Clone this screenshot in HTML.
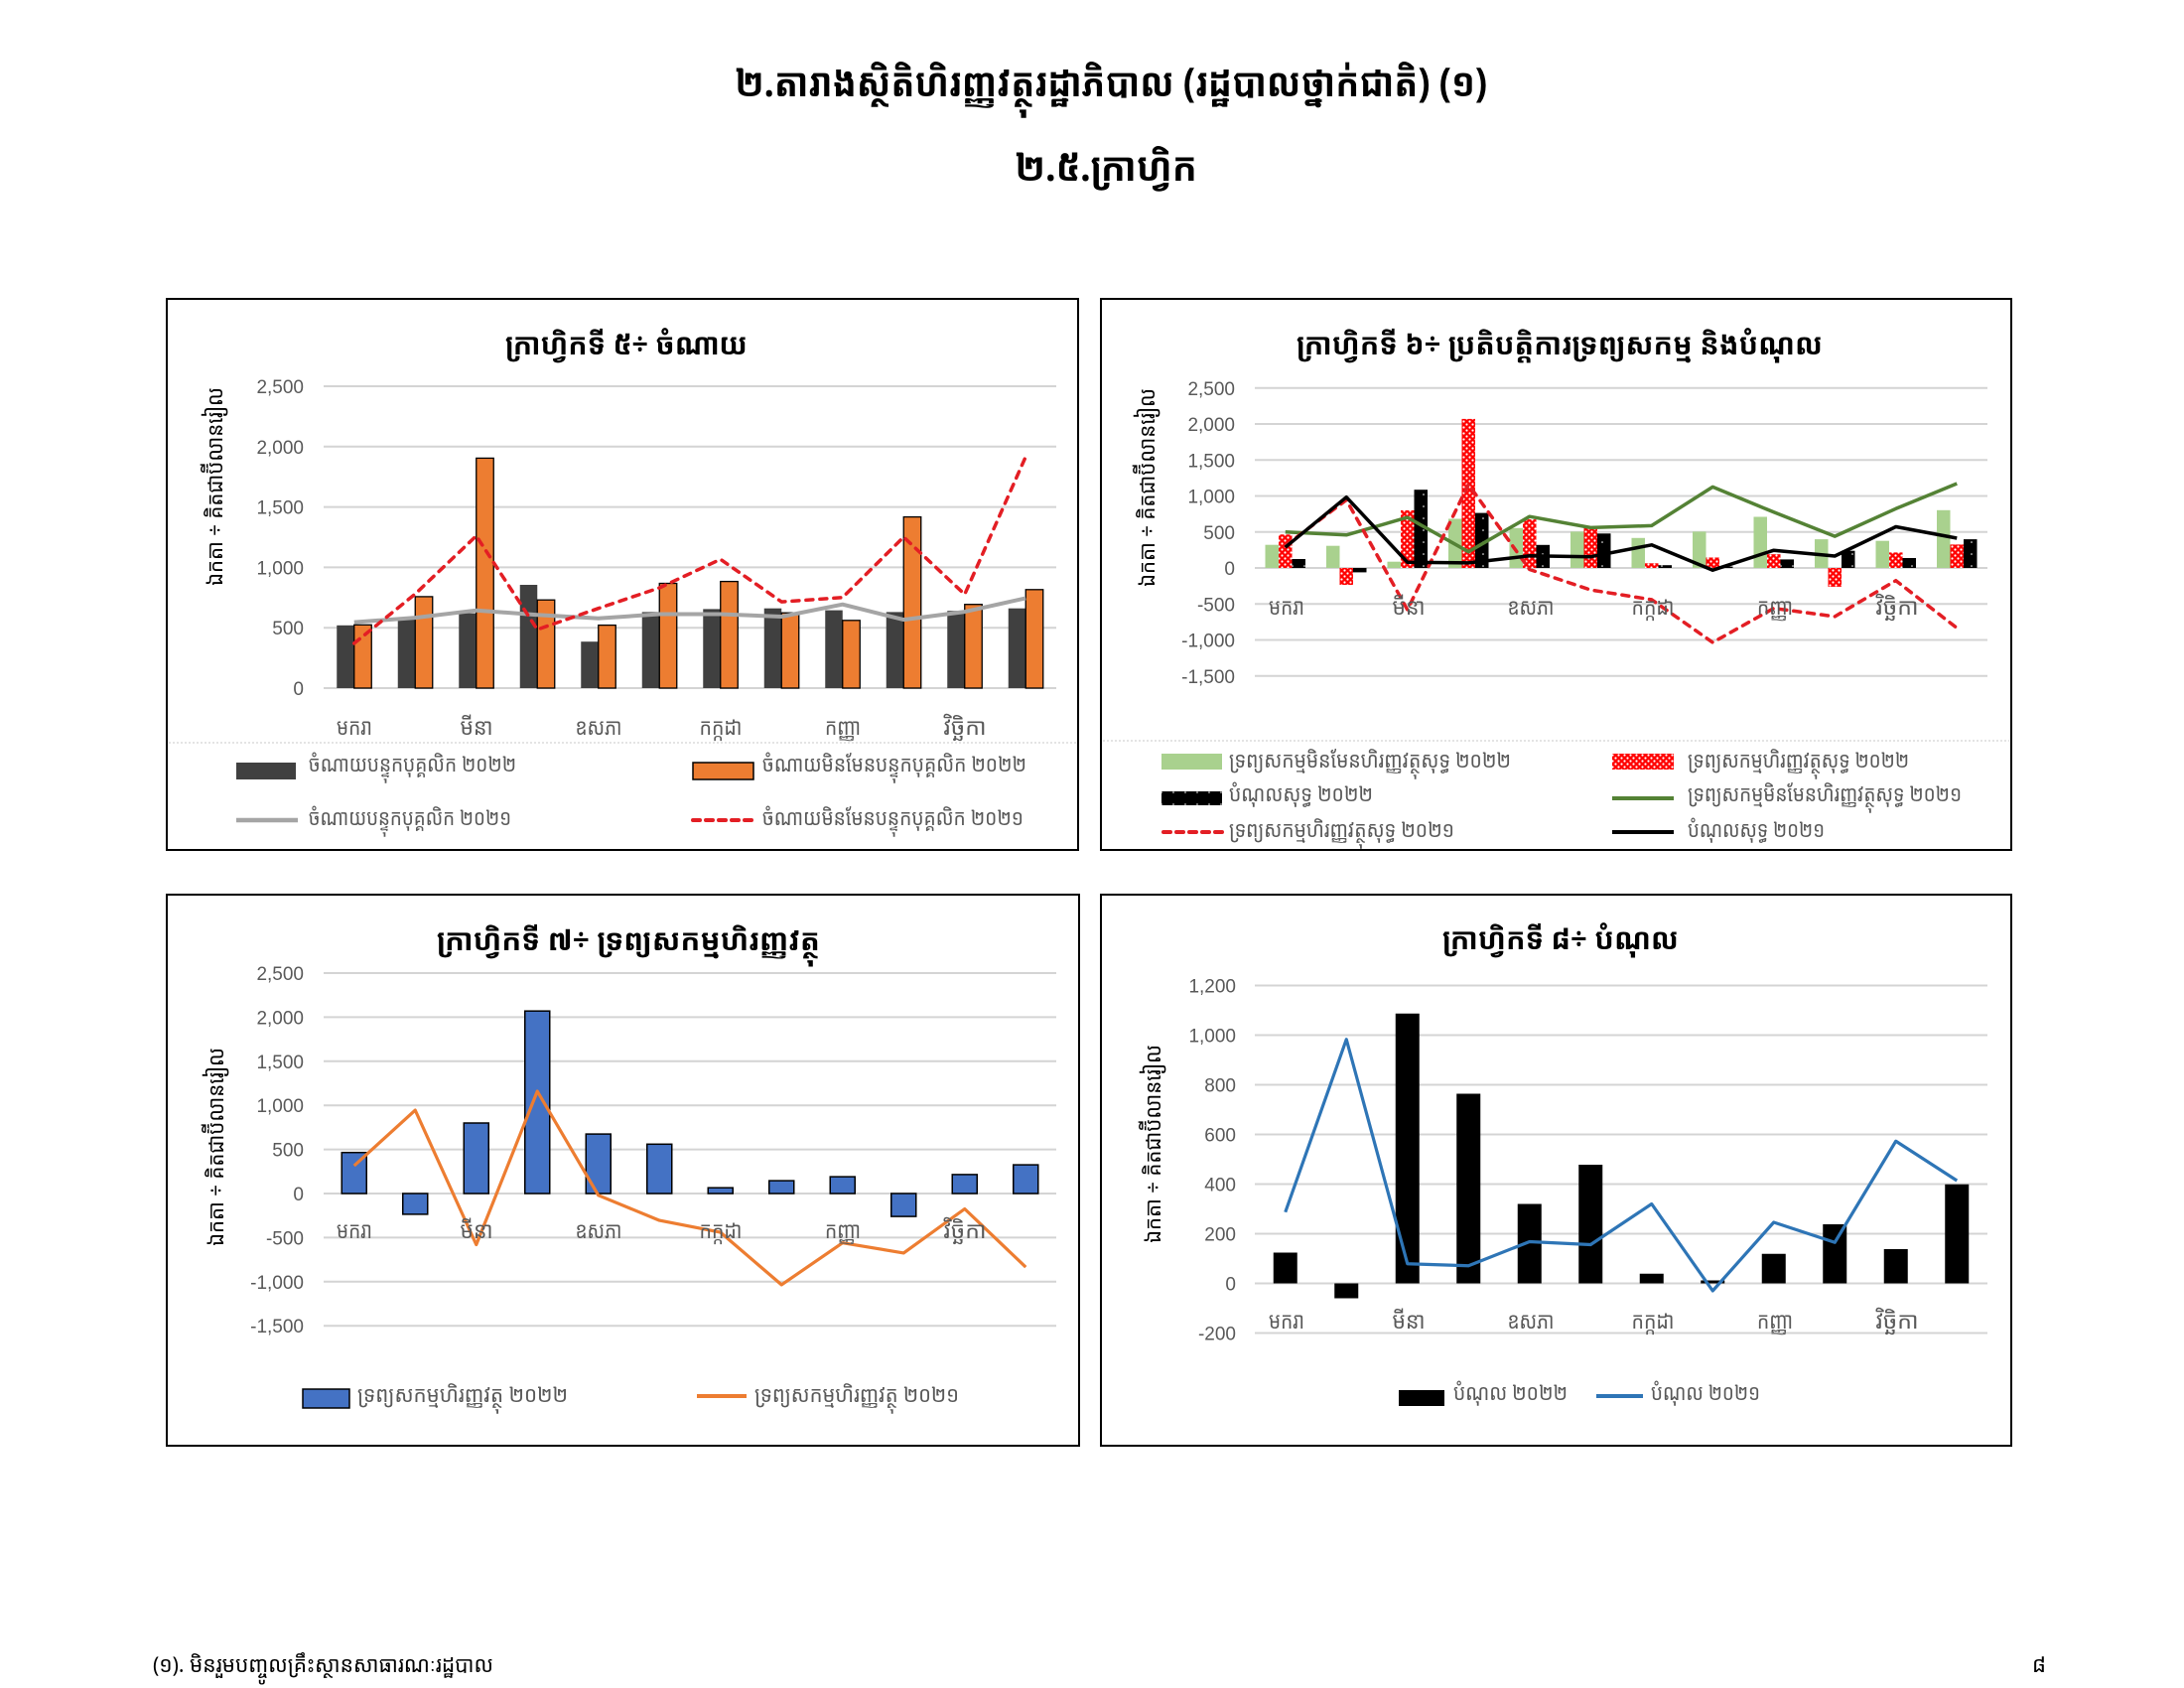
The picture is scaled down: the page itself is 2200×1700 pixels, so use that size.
<!DOCTYPE html>
<html><head><meta charset="utf-8"><style>
html,body{margin:0;padding:0;background:#fff;}
svg{display:block;}
.tk{font-family:"Liberation Sans",sans-serif;font-size:19px;fill:#595959;}
.km{font-family:"Khmer OS System","Khmer OS","Noto Sans Khmer","Khmer OS Content","Hanuman","Liberation Sans","DejaVu Sans",sans-serif;}
.cat{font-size:23px;fill:#595959;}
.lg{font-size:22px;fill:#595959;}
.yt{font-size:22px;fill:#000;}
.ct{font-size:30px;font-weight:bold;fill:#000;}
.pt{font-size:40px;font-weight:bold;fill:#000;}
.grid line{stroke:#D4D4D4;stroke-width:2;}
</style></head><body>
<svg width="2200" height="1700" viewBox="0 0 2200 1700" xmlns="http://www.w3.org/2000/svg">
<defs>
<pattern id="rdots" width="6" height="6" patternUnits="userSpaceOnUse"><rect width="6" height="6" fill="#FF0000"/><circle cx="1.5" cy="1.5" r="1.1" fill="#fff"/><circle cx="4.5" cy="4.5" r="1.1" fill="#fff"/></pattern>
<pattern id="kdots" width="12" height="12" patternUnits="userSpaceOnUse"><rect width="12" height="12" fill="#000"/><circle cx="6" cy="6" r="0.8" fill="#fff"/></pattern>
</defs>
<rect width="2200" height="1700" fill="#fff"/>

<!-- Page titles -->
<text class="km pt" x="1119" y="97" text-anchor="middle" textLength="758" lengthAdjust="spacingAndGlyphs">២.តារាងស្ថិតិហិរញ្ញវត្ថុរដ្ឋាភិបាល (រដ្ឋបាលថ្នាក់ជាតិ) (១)</text>
<text class="km pt" x="1114" y="182" text-anchor="middle" textLength="184" lengthAdjust="spacingAndGlyphs">២.៥.ក្រាហ្វិក</text>

<!-- ================= CHART 1 ================= -->
<rect x="168" y="301" width="918" height="555" fill="#fff" stroke="#000" stroke-width="2"/>
<text class="km ct" x="631" y="357" text-anchor="middle" textLength="244" lengthAdjust="spacingAndGlyphs">ក្រាហ្វិកទី ៥÷ ចំណាយ</text>
<g class="grid">
<line x1="326" x2="1064" y1="389" y2="389"/><line x1="326" x2="1064" y1="449.8" y2="449.8"/><line x1="326" x2="1064" y1="510.6" y2="510.6"/><line x1="326" x2="1064" y1="571.4" y2="571.4"/><line x1="326" x2="1064" y1="632.2" y2="632.2"/><line x1="326" x2="1064" y1="693" y2="693"/>
</g>
<g class="tk" text-anchor="end">
<text x="306" y="396">2,500</text><text x="306" y="456.8">2,000</text><text x="306" y="517.6">1,500</text><text x="306" y="578.4">1,000</text><text x="306" y="639.2">500</text><text x="306" y="700">0</text>
</g>
<text class="km yt" transform="translate(224,490) rotate(-90)" text-anchor="middle" textLength="200" lengthAdjust="spacingAndGlyphs">ឯកតា ÷ គិតជាប៊ីលានរៀល</text>
<g fill="#404040">
<rect x="339.25" y="629.8" width="17.5" height="63.2"/><rect x="400.75" y="622.5" width="17.5" height="70.5"/><rect x="462.25" y="617.6" width="17.5" height="75.4"/><rect x="523.75" y="589" width="17.5" height="104"/><rect x="585.25" y="646.2" width="17.5" height="46.8"/><rect x="646.75" y="616.4" width="17.5" height="76.6"/><rect x="708.25" y="613.4" width="17.5" height="79.6"/><rect x="769.75" y="612.7" width="17.5" height="80.3"/><rect x="831.25" y="614.6" width="17.5" height="78.4"/><rect x="892.75" y="616.4" width="17.5" height="76.6"/><rect x="954.25" y="615.2" width="17.5" height="77.8"/><rect x="1015.75" y="612.7" width="17.5" height="80.3"/>
</g>
<g fill="#ED7D31" stroke="#000" stroke-width="1.3">
<rect x="356.75" y="629.3" width="17.5" height="63.7"/><rect x="418.25" y="600.9" width="17.5" height="92.1"/><rect x="479.75" y="461.4" width="17.5" height="231.6"/><rect x="541.25" y="604.2" width="17.5" height="88.8"/><rect x="602.75" y="629.6" width="17.5" height="63.4"/><rect x="664.25" y="587.5" width="17.5" height="105.5"/><rect x="725.75" y="585.6" width="17.5" height="107.4"/><rect x="787.25" y="617.2" width="17.5" height="75.8"/><rect x="848.75" y="624.8" width="17.5" height="68.2"/><rect x="910.25" y="520.6" width="17.5" height="172.4"/><rect x="971.75" y="608.7" width="17.5" height="84.3"/><rect x="1033.25" y="593.8" width="17.5" height="99.2"/>
</g>
<polyline fill="none" stroke="#A5A5A5" stroke-width="4" stroke-linejoin="round" points="356.75,626.6 418.25,622.1 479.75,614.7 541.25,619.2 602.75,622.8 664.25,618.5 725.75,618.5 787.25,621 848.75,608.7 910.25,624.1 971.75,616.1 1033.25,602.4"/>
<polyline fill="none" stroke="#E31E24" stroke-width="3.5" stroke-dasharray="7 7" stroke-linecap="round" stroke-linejoin="round" points="356.75,647.9 418.25,598.2 479.75,539.7 541.25,634 602.75,612.7 664.25,592 725.75,563.3 787.25,606.1 848.75,601.7 910.25,540.9 971.75,598.6 1033.25,459.9"/>
<g class="km cat" text-anchor="middle">
<text x="357" y="740" textLength="36" lengthAdjust="spacingAndGlyphs">មករា</text>
<text x="480" y="740" textLength="33" lengthAdjust="spacingAndGlyphs">មីនា</text>
<text x="603" y="740" textLength="47" lengthAdjust="spacingAndGlyphs">ឧសភា</text>
<text x="726" y="740" textLength="43" lengthAdjust="spacingAndGlyphs">កក្កដា</text>
<text x="849" y="740" textLength="36" lengthAdjust="spacingAndGlyphs">កញ្ញា</text>
<text x="972" y="740" textLength="43" lengthAdjust="spacingAndGlyphs">វិច្ឆិកា</text>
</g>
<line x1="170" x2="1084" y1="748" y2="748" stroke="#C8C8C8" stroke-width="1" stroke-dasharray="2 2"/>
<rect x="238" y="768" width="60" height="17" fill="#404040"/>
<text class="km lg" x="311" y="777" textLength="209" lengthAdjust="spacingAndGlyphs">ចំណាយបន្ទុកបុគ្គលិក ២០២២</text>
<rect x="698" y="768" width="61" height="17" fill="#ED7D31" stroke="#000" stroke-width="1.5"/>
<text class="km lg" x="768" y="777" textLength="266" lengthAdjust="spacingAndGlyphs">ចំណាយមិនមែនបន្ទុកបុគ្គលិក ២០២២</text>
<line x1="238" x2="300" y1="826" y2="826" stroke="#A5A5A5" stroke-width="4.5"/>
<text class="km lg" x="311" y="831" textLength="204" lengthAdjust="spacingAndGlyphs">ចំណាយបន្ទុកបុគ្គលិក ២០២១</text>
<line x1="698" x2="759" y1="826" y2="826" stroke="#E31E24" stroke-width="4" stroke-dasharray="7 6" stroke-linecap="round"/>
<text class="km lg" x="768" y="831" textLength="263" lengthAdjust="spacingAndGlyphs">ចំណាយមិនមែនបន្ទុកបុគ្គលិក ២០២១</text>

<!-- ================= CHART 2 ================= -->
<rect x="1109" y="301" width="917" height="555" fill="#fff" stroke="#000" stroke-width="2"/>
<text class="km ct" x="1571" y="357" text-anchor="middle" textLength="530" lengthAdjust="spacingAndGlyphs">ក្រាហ្វិកទី ៦÷ ប្រតិបត្តិការទ្រព្យសកម្ម និងបំណុល</text>
<g class="grid">
<line x1="1264" x2="2002" y1="390.75" y2="390.75"/><line x1="1264" x2="2002" y1="427" y2="427"/><line x1="1264" x2="2002" y1="463.25" y2="463.25"/><line x1="1264" x2="2002" y1="499.5" y2="499.5"/><line x1="1264" x2="2002" y1="535.75" y2="535.75"/><line x1="1264" x2="2002" y1="572" y2="572"/><line x1="1264" x2="2002" y1="608.25" y2="608.25"/><line x1="1264" x2="2002" y1="644.5" y2="644.5"/><line x1="1264" x2="2002" y1="680.75" y2="680.75"/>
</g>
<g class="tk" text-anchor="end">
<text x="1244" y="397.75">2,500</text><text x="1244" y="434">2,000</text><text x="1244" y="470.25">1,500</text><text x="1244" y="506.5">1,000</text><text x="1244" y="542.75">500</text><text x="1244" y="579">0</text><text x="1244" y="615.25">-500</text><text x="1244" y="651.5">-1,000</text><text x="1244" y="687.75">-1,500</text>
</g>
<text class="km yt" transform="translate(1163,491) rotate(-90)" text-anchor="middle" textLength="200" lengthAdjust="spacingAndGlyphs">ឯកតា ÷ គិតជាប៊ីលានរៀល</text>
<g fill="#A9D18E">
<rect x="1274.5" y="548.7" width="13.5" height="23.3"/><rect x="1336" y="549.7" width="13.5" height="22.3"/><rect x="1397.5" y="565.7" width="13.5" height="6.3"/><rect x="1459" y="522.5" width="13.5" height="49.5"/><rect x="1520.5" y="531.8" width="13.5" height="40.2"/><rect x="1582" y="535.4" width="13.5" height="36.6"/><rect x="1643.5" y="541.8" width="13.5" height="30.2"/><rect x="1705" y="535.4" width="13.5" height="36.6"/><rect x="1766.5" y="520.5" width="13.5" height="51.5"/><rect x="1828" y="543.1" width="13.5" height="28.9"/><rect x="1889.5" y="544.7" width="13.5" height="27.3"/><rect x="1951" y="513.8" width="13.5" height="58.2"/>
</g>
<g fill="url(#rdots)">
<rect x="1288" y="538.3" width="13.5" height="33.7"/><rect x="1349.5" y="572" width="13.5" height="17"/><rect x="1411" y="514" width="13.5" height="58"/><rect x="1472.5" y="421.9" width="13.5" height="150.1"/><rect x="1534" y="523.1" width="13.5" height="48.9"/><rect x="1595.5" y="531.4" width="13.5" height="40.6"/><rect x="1657" y="567.3" width="13.5" height="4.7"/><rect x="1718.5" y="561.5" width="13.5" height="10.5"/><rect x="1780" y="558.2" width="13.5" height="13.8"/><rect x="1841.5" y="572" width="13.5" height="18.9"/><rect x="1903" y="556.4" width="13.5" height="15.6"/><rect x="1964.5" y="548.4" width="13.5" height="23.6"/>
</g>
<g fill="url(#kdots)">
<rect x="1301.5" y="563" width="13.5" height="9"/><rect x="1363" y="572" width="13.5" height="4.4"/><rect x="1424.5" y="493.2" width="13.5" height="78.8"/><rect x="1486" y="516.6" width="13.5" height="55.4"/><rect x="1547.5" y="548.8" width="13.5" height="23.2"/><rect x="1609" y="537.3" width="13.5" height="34.7"/><rect x="1670.5" y="569.2" width="13.5" height="2.8"/><rect x="1732" y="570.6" width="13.5" height="1.4"/><rect x="1793.5" y="563.4" width="13.5" height="8.6"/><rect x="1855" y="554.7" width="13.5" height="17.3"/><rect x="1916.5" y="562" width="13.5" height="10"/><rect x="1978" y="543.1" width="13.5" height="28.9"/>
</g>
<polyline fill="none" stroke="#548235" stroke-width="3.5" stroke-linejoin="round" points="1294.75,535.75 1356.25,538.8 1417.75,521.1 1479.25,555.7 1540.75,520.2 1602.25,531.4 1663.75,529.4 1725.25,490.4 1786.75,515.8 1848.25,540.1 1909.75,512.3 1971.25,487"/>
<polyline fill="none" stroke="#E31E24" stroke-width="3.5" stroke-dasharray="7 7" stroke-linecap="round" stroke-linejoin="round" points="1294.75,549.5 1356.25,503.5 1417.75,614.1 1479.25,487.9 1540.75,573.5 1602.25,594.1 1663.75,603.9 1725.25,647 1786.75,612.6 1848.25,620.9 1909.75,584.7 1971.25,632.5"/>
<polyline fill="none" stroke="#000" stroke-width="3.5" stroke-linejoin="round" points="1294.75,551.2 1356.25,500.7 1417.75,566.3 1479.25,566.9 1540.75,559.8 1602.25,560.7 1663.75,548.8 1725.25,574.2 1786.75,554.2 1848.25,560 1909.75,530.5 1971.25,542"/>
<g class="km cat" text-anchor="middle">
<text x="1296" y="619" textLength="36" lengthAdjust="spacingAndGlyphs">មករា</text>
<text x="1419" y="619" textLength="33" lengthAdjust="spacingAndGlyphs">មីនា</text>
<text x="1542" y="619" textLength="47" lengthAdjust="spacingAndGlyphs">ឧសភា</text>
<text x="1665" y="619" textLength="43" lengthAdjust="spacingAndGlyphs">កក្កដា</text>
<text x="1788" y="619" textLength="36" lengthAdjust="spacingAndGlyphs">កញ្ញា</text>
<text x="1911" y="619" textLength="43" lengthAdjust="spacingAndGlyphs">វិច្ឆិកា</text>
</g>
<line x1="1111" x2="2024" y1="746" y2="746" stroke="#C8C8C8" stroke-width="1" stroke-dasharray="2 2"/>
<rect x="1170" y="759" width="61" height="16" fill="#A9D18E"/>
<text class="km lg" x="1238" y="773" textLength="284" lengthAdjust="spacingAndGlyphs">ទ្រព្យសកម្មមិនមែនហិរញ្ញវត្ថុសុទ្ធ ២០២២</text>
<rect x="1624" y="759" width="62" height="16" fill="url(#rdots)"/>
<text class="km lg" x="1700" y="773" textLength="223" lengthAdjust="spacingAndGlyphs">ទ្រព្យសកម្មហិរញ្ញវត្ថុសុទ្ធ ២០២២</text>
<rect x="1170" y="797" width="61" height="14" fill="url(#kdots)"/>
<text class="km lg" x="1238" y="807" textLength="145" lengthAdjust="spacingAndGlyphs">បំណុលសុទ្ធ ២០២២</text>
<line x1="1624" x2="1686" y1="804" y2="804" stroke="#548235" stroke-width="4"/>
<text class="km lg" x="1700" y="807" textLength="276" lengthAdjust="spacingAndGlyphs">ទ្រព្យសកម្មមិនមែនហិរញ្ញវត្ថុសុទ្ធ ២០២១</text>
<line x1="1172" x2="1231" y1="838" y2="838" stroke="#E31E24" stroke-width="4" stroke-dasharray="7 6" stroke-linecap="round"/>
<text class="km lg" x="1238" y="843" textLength="227" lengthAdjust="spacingAndGlyphs">ទ្រព្យសកម្មហិរញ្ញវត្ថុសុទ្ធ ២០២១</text>
<line x1="1624" x2="1686" y1="838" y2="838" stroke="#000" stroke-width="4"/>
<text class="km lg" x="1700" y="843" textLength="138" lengthAdjust="spacingAndGlyphs">បំណុលសុទ្ធ ២០២១</text>

<!-- ================= CHART 7 ================= -->
<rect x="168" y="901" width="919" height="555" fill="#fff" stroke="#000" stroke-width="2"/>
<text class="km ct" x="633" y="957" text-anchor="middle" textLength="386" lengthAdjust="spacingAndGlyphs">ក្រាហ្វិកទី ៧÷ ទ្រព្យសកម្មហិរញ្ញវត្ថុ</text>
<g class="grid">
<line x1="326" x2="1064" y1="980" y2="980"/><line x1="326" x2="1064" y1="1024.4" y2="1024.4"/><line x1="326" x2="1064" y1="1068.8" y2="1068.8"/><line x1="326" x2="1064" y1="1113.2" y2="1113.2"/><line x1="326" x2="1064" y1="1157.6" y2="1157.6"/><line x1="326" x2="1064" y1="1202" y2="1202"/><line x1="326" x2="1064" y1="1246.4" y2="1246.4"/><line x1="326" x2="1064" y1="1290.8" y2="1290.8"/><line x1="326" x2="1064" y1="1335.2" y2="1335.2"/>
</g>
<g class="tk" text-anchor="end">
<text x="306" y="987">2,500</text><text x="306" y="1031.4">2,000</text><text x="306" y="1075.8">1,500</text><text x="306" y="1120.2">1,000</text><text x="306" y="1164.6">500</text><text x="306" y="1209">0</text><text x="306" y="1253.4">-500</text><text x="306" y="1297.8">-1,000</text><text x="306" y="1342.2">-1,500</text>
</g>
<text class="km yt" transform="translate(225,1155) rotate(-90)" text-anchor="middle" textLength="200" lengthAdjust="spacingAndGlyphs">ឯកតា ÷ គិតជាប៊ីលានរៀល</text>
<g fill="#4472C4" stroke="#000" stroke-width="1.5">
<rect x="344.25" y="1160.7" width="25" height="41.3"/><rect x="405.75" y="1202" width="25" height="20.9"/><rect x="467.25" y="1131" width="25" height="71"/><rect x="528.75" y="1018.2" width="25" height="183.8"/><rect x="590.25" y="1142.1" width="25" height="59.9"/><rect x="651.75" y="1152.3" width="25" height="49.7"/><rect x="713.25" y="1196.2" width="25" height="5.8"/><rect x="774.75" y="1189.1" width="25" height="12.9"/><rect x="836.25" y="1185.1" width="25" height="16.9"/><rect x="897.75" y="1202" width="25" height="23.1"/><rect x="959.25" y="1182.9" width="25" height="19.1"/><rect x="1020.75" y="1173.1" width="25" height="28.9"/>
</g>
<polyline fill="none" stroke="#ED7D31" stroke-width="3.2" stroke-linejoin="round" points="356.75,1174 418.25,1118.1 479.75,1253.5 541.25,1099 602.75,1203.8 664.25,1229.1 725.75,1241.1 787.25,1293.9 848.75,1251.7 910.25,1261.9 971.75,1217.5 1033.25,1276.1"/>
<g class="km cat" text-anchor="middle">
<text x="357" y="1247" textLength="36" lengthAdjust="spacingAndGlyphs">មករា</text>
<text x="480" y="1247" textLength="33" lengthAdjust="spacingAndGlyphs">មីនា</text>
<text x="603" y="1247" textLength="47" lengthAdjust="spacingAndGlyphs">ឧសភា</text>
<text x="726" y="1247" textLength="43" lengthAdjust="spacingAndGlyphs">កក្កដា</text>
<text x="849" y="1247" textLength="36" lengthAdjust="spacingAndGlyphs">កញ្ញា</text>
<text x="972" y="1247" textLength="43" lengthAdjust="spacingAndGlyphs">វិច្ឆិកា</text>
</g>
<rect x="305" y="1399" width="47" height="19" fill="#4472C4" stroke="#000" stroke-width="1.5"/>
<text class="km lg" x="360" y="1412" textLength="212" lengthAdjust="spacingAndGlyphs">ទ្រព្យសកម្មហិរញ្ញវត្ថុ ២០២២</text>
<line x1="702" x2="752" y1="1406" y2="1406" stroke="#ED7D31" stroke-width="4"/>
<text class="km lg" x="760" y="1412" textLength="206" lengthAdjust="spacingAndGlyphs">ទ្រព្យសកម្មហិរញ្ញវត្ថុ ២០២១</text>

<!-- ================= CHART 8 ================= -->
<rect x="1109" y="901" width="917" height="555" fill="#fff" stroke="#000" stroke-width="2"/>
<text class="km ct" x="1572" y="956" text-anchor="middle" textLength="238" lengthAdjust="spacingAndGlyphs">ក្រាហ្វិកទី ៨÷ បំណុល</text>
<g class="grid">
<line x1="1264" x2="2002" y1="992.5" y2="992.5"/><line x1="1264" x2="2002" y1="1042.5" y2="1042.5"/><line x1="1264" x2="2002" y1="1092.5" y2="1092.5"/><line x1="1264" x2="2002" y1="1142.5" y2="1142.5"/><line x1="1264" x2="2002" y1="1192.5" y2="1192.5"/><line x1="1264" x2="2002" y1="1242.5" y2="1242.5"/><line x1="1264" x2="2002" y1="1292.5" y2="1292.5"/><line x1="1264" x2="2002" y1="1342.5" y2="1342.5"/>
</g>
<g class="tk" text-anchor="end">
<text x="1245" y="999.5">1,200</text><text x="1245" y="1049.5">1,000</text><text x="1245" y="1099.5">800</text><text x="1245" y="1149.5">600</text><text x="1245" y="1199.5">400</text><text x="1245" y="1249.5">200</text><text x="1245" y="1299.5">0</text><text x="1245" y="1349.5">-200</text>
</g>
<text class="km yt" transform="translate(1169,1152) rotate(-90)" text-anchor="middle" textLength="200" lengthAdjust="spacingAndGlyphs">ឯកតា ÷ គិតជាប៊ីលានរៀល</text>
<g fill="#000">
<rect x="1282.75" y="1261.5" width="24" height="31"/><rect x="1344.25" y="1292.5" width="24" height="15"/><rect x="1405.75" y="1020.75" width="24" height="271.75"/><rect x="1467.25" y="1101.5" width="24" height="191"/><rect x="1528.75" y="1212.5" width="24" height="80"/><rect x="1590.25" y="1173" width="24" height="119.5"/><rect x="1651.75" y="1282.75" width="24" height="9.75"/><rect x="1713.25" y="1289.5" width="24" height="3"/><rect x="1774.75" y="1262.75" width="24" height="29.75"/><rect x="1836.25" y="1233" width="24" height="59.5"/><rect x="1897.75" y="1258" width="24" height="34.5"/><rect x="1959.25" y="1192.75" width="24" height="99.75"/>
</g>
<polyline fill="none" stroke="#2E75B6" stroke-width="3.2" stroke-linejoin="round" points="1294.75,1220.75 1356.25,1046.75 1417.75,1272.75 1479.25,1274.75 1540.75,1250.5 1602.25,1253.5 1663.75,1212.5 1725.25,1300 1786.75,1231 1848.25,1251.25 1909.75,1149.25 1971.25,1189"/>
<g class="km cat" text-anchor="middle">
<text x="1296" y="1338" textLength="36" lengthAdjust="spacingAndGlyphs">មករា</text>
<text x="1419" y="1338" textLength="33" lengthAdjust="spacingAndGlyphs">មីនា</text>
<text x="1542" y="1338" textLength="47" lengthAdjust="spacingAndGlyphs">ឧសភា</text>
<text x="1665" y="1338" textLength="43" lengthAdjust="spacingAndGlyphs">កក្កដា</text>
<text x="1788" y="1338" textLength="36" lengthAdjust="spacingAndGlyphs">កញ្ញា</text>
<text x="1911" y="1338" textLength="43" lengthAdjust="spacingAndGlyphs">វិច្ឆិកា</text>
</g>
<rect x="1409" y="1400" width="46" height="16" fill="#000"/>
<text class="km lg" x="1464" y="1410" textLength="115" lengthAdjust="spacingAndGlyphs">បំណុល ២០២២</text>
<line x1="1608" x2="1655" y1="1406" y2="1406" stroke="#2E75B6" stroke-width="4"/>
<text class="km lg" x="1663" y="1410" textLength="110" lengthAdjust="spacingAndGlyphs">បំណុល ២០២១</text>

<!-- Footer -->
<text class="km" x="154" y="1684" font-size="22" fill="#000" textLength="343" lengthAdjust="spacingAndGlyphs">(១). មិនរួមបញ្ចូលគ្រឹះស្ថានសាធារណៈរដ្ឋបាល</text>
<text class="km" x="2047" y="1684" font-size="22" fill="#000">៨</text>
</svg>
</body></html>
